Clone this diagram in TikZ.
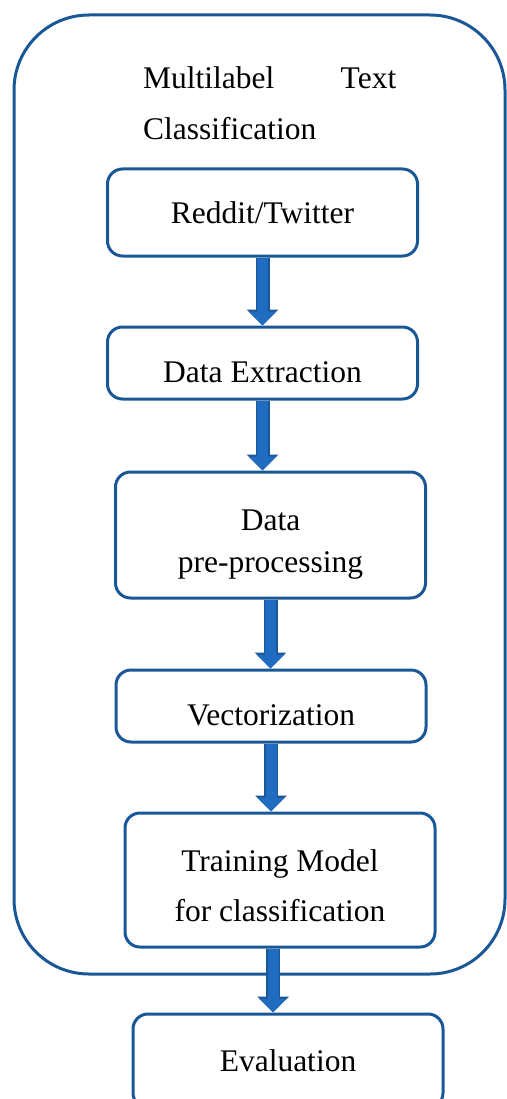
\documentclass[tikz,border=0pt]{standalone}
\usepackage{fontspec}
\setmainfont{Liberation Serif}
\usetikzlibrary{arrows.meta}
\definecolor{boxblue}{RGB}{26,87,150}
\definecolor{arrowblue}{RGB}{31,108,192}
\newcommand{\lift}[1]{\rule{0pt}{#1}}
\begin{document}
\begin{tikzpicture}[x=1pt,y=-1pt]
		\tikzset{stage/.style = {draw=boxblue,line width=3pt,rounded corners=15pt,minimum width=310pt,inner sep=0pt,align=center,font=\fontsize{31.5}{42}\selectfont}}
		\tikzset{lowtext/.style = {text height=39.5pt,text depth=0pt}}
		\tikzset{flow/.style = {line width=11pt,draw=arrowblue,-{Triangle[width=27pt,length=14pt]},
				preaction={draw=boxblue,line width=14pt,-{Triangle[width=31pt,length=16pt]}}}}
		\useasboundingbox (0,0) rectangle (506,1099);
		% outer frame
		\draw[boxblue,line width=3pt,rounded corners=75pt] (14,15) rectangle (505,974);
		\node[anchor=north west,inner sep=0pt,text width=253pt,align=left,font=\fontsize{31.5}{51}\selectfont] (title) at (143,66.5) {Multilabel\hfill Text\\Classification};
		\node[stage,minimum height=87pt] (rt) at (262.5,212.5) {Reddit/Twitter};
		\node[stage,lowtext,minimum height=72pt] (de) at (262.5,363) {Data Extraction};
		\node[stage,minimum height=126pt] (pp) at (270.5,535) {\lift{40pt}Data\\pre-processing};
		\node[stage,lowtext,minimum height=72pt] (vz) at (271,706) {Vectorization};
		\node[stage,minimum height=134pt,font=\fontsize{31.5}{50}\selectfont] (tm) at (280,880) {\lift{34pt}Training Model\\for classification};
		\node[stage,minimum height=94pt] (ev) at (288,1061) {Evaluation};
		\draw[flow] (rt.south) -- (rt.south |- de.north);
		\draw[flow] (de.south) -- (de.south |- pp.north);
		\draw[flow] (pp.south) -- (pp.south |- vz.north);
		\draw[flow] (vz.south) -- (vz.south |- tm.north);
		\draw[flow] ([xshift=-7pt]tm.south) -- ([xshift=-7pt]tm.south |- ev.north);
	\end{tikzpicture}
\end{document}
